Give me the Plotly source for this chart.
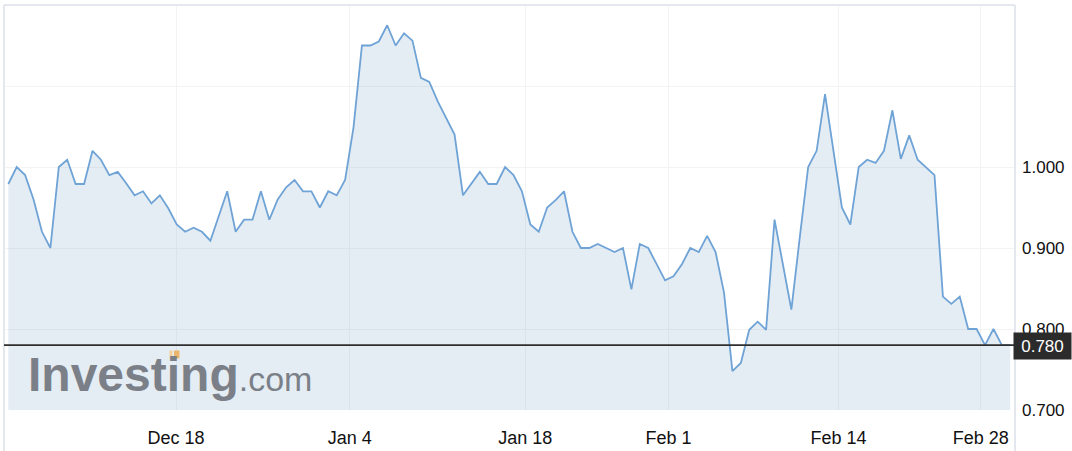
import plotly.graph_objects as go

# ---- data ----
values = [
    0.979, 1.000, 0.990, 0.960, 0.920, 0.900, 1.000, 1.009, 0.979, 0.979,
    1.020, 1.009, 0.990, 0.994, 0.980, 0.965, 0.970, 0.955, 0.965, 0.949,
    0.929, 0.920, 0.925, 0.920, 0.909, 0.940, 0.970, 0.920, 0.935, 0.935,
    0.970, 0.935, 0.960, 0.975, 0.984, 0.970, 0.970, 0.950, 0.970, 0.965,
    0.984, 1.049, 1.150, 1.150, 1.155, 1.175, 1.150, 1.165, 1.156, 1.110,
    1.105, 1.081, 1.061, 1.040, 0.965, 0.979, 0.994, 0.979, 0.979, 1.000,
    0.990, 0.970, 0.929, 0.920, 0.950, 0.959, 0.970, 0.920, 0.900, 0.900,
    0.905, 0.900, 0.895, 0.900, 0.849, 0.905, 0.900, 0.880, 0.860, 0.865,
    0.880, 0.900, 0.895, 0.915, 0.895, 0.845, 0.748, 0.758, 0.799, 0.809,
    0.799, 0.935, 0.880, 0.824, 0.913, 1.000, 1.020, 1.090, 1.020, 0.950,
    0.929, 1.000, 1.009, 1.005, 1.020, 1.070, 1.010, 1.039, 1.009, 1.000,
    0.990, 0.840, 0.831, 0.840, 0.800, 0.800, 0.780, 0.800, 0.780, 0.780,
]
sessions = list(range(len(values)))
last_value = values[-1]

x_tick_labels = ["Dec 18", "Jan 4", "Jan 18", "Feb 1", "Feb 14", "Feb 28"]
x_tick_sessions = [19.92, 40.56, 61.40, 78.41, 98.60, 115.49]

y_tick_values = [0.7, 0.8, 0.9, 1.0, 1.1]
y_tick_labels = ["0.700", "0.800", "0.900", "1.000", ""]

FONT = "Liberation Sans, Arial, Helvetica, sans-serif"
W, H = 1072, 451
ML, MR, MT, MB = 4, 57, 5, 41
PW, PH = W - ML - MR, H - MT - MB


def px_x(p):
    return (p - ML) / PW


def px_y(p):
    return (H - MB - p) / PH


fig = go.Figure()
fig.add_trace(go.Scatter(
    x=sessions, y=values, mode="lines",
    line=dict(color="#6fa3d6", width=1.8),
    fill="tozeroy", fillcolor="rgba(115,160,195,0.19)",
    hoverinfo="skip",
))

frame = "#e4e7ee"
shapes = [
    dict(type="line", xref="paper", yref="paper", x0=0, x1=1, y0=1, y1=1,
         line=dict(color=frame, width=2)),
    dict(type="line", xref="paper", yref="paper", x0=0, x1=0, y0=1, y1=-0.15,
         line=dict(color=frame, width=2)),
    dict(type="line", xref="paper", yref="paper", x0=1, x1=1, y0=1, y1=-0.15,
         line=dict(color=frame, width=2)),
    dict(type="line", xref="paper", yref="y", x0=0, x1=1, y0=last_value, y1=last_value,
         line=dict(color="#2e2e2e", width=1.8)),
    # orange marks of the logo
    dict(type="rect", xref="paper", yref="paper", x0=px_x(169.5), x1=px_x(172.5),
         y0=px_y(358.5), y1=px_y(350.5), line=dict(width=0), fillcolor="#f3cf9a"),
    dict(type="rect", xref="paper", yref="paper", x0=px_x(174), x1=px_x(179.5),
         y0=px_y(358.5), y1=px_y(350.5), line=dict(width=0), fillcolor="#ebb56b"),
]

annotations = [
    dict(xref="paper", yref="paper", x=px_x(26), y=px_y(374), xanchor="left", yanchor="middle",
         text="<b>Investing</b><span style='font-size:34px;font-weight:normal'>.com</span>",
         showarrow=False, font=dict(family=FONT, size=48, color="#7b8088")),
    dict(xref="paper", yref="y", x=1, y=last_value, xanchor="left", yanchor="middle",
         xshift=-2, yshift=-1, width=57, height=26, align="center",
         text=f"{last_value:.3f}", showarrow=False, bgcolor="#2b2b2b", borderpad=0,
         font=dict(family=FONT, size=17, color="#ffffff")),
]

fig.update_layout(
    width=W, height=H,
    margin=dict(l=ML, r=MR, t=MT, b=MB),
    paper_bgcolor="#ffffff", plot_bgcolor="#ffffff",
    showlegend=False,
    shapes=shapes, annotations=annotations,
    xaxis=dict(range=[-0.51, 119.56], tickmode="array", tickvals=x_tick_sessions,
               ticktext=x_tick_labels, showgrid=True, gridcolor="#f3f3f3", gridwidth=1.2,
               zeroline=False, showline=False, ticks="", ticklabelstandoff=15,
               tickfont=dict(family=FONT, size=18, color="#111111"), fixedrange=True),
    yaxis=dict(range=[0.7, 1.2], side="right", tickmode="array", tickvals=y_tick_values,
               ticktext=y_tick_labels, showgrid=True, gridcolor="#f3f3f3", gridwidth=1.2,
               zeroline=False, showline=False, ticks="", ticklabelstandoff=6,
               tickfont=dict(family=FONT, size=17, color="#111111"), fixedrange=True),
)

fig.write_html("out.html",
               config={"displayModeBar": False},
               post_script="document.body.style.margin='0';document.body.style.overflow='hidden';")
